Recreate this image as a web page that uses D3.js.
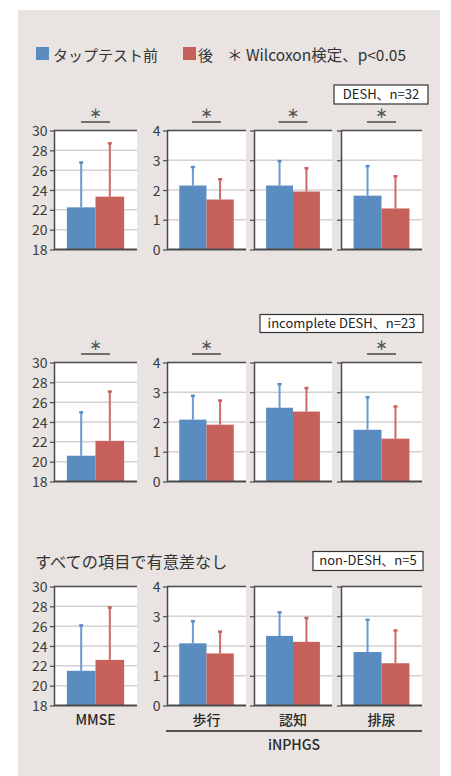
<!DOCTYPE html>
<html>
<head>
<meta charset="utf-8">
<script src="https://cdn.jsdelivr.net/npm/d3@7"></script>
<style>
  html, body { margin: 0; padding: 0; background: #ffffff; }
  svg { display: block; font-family: "Noto Sans CJK JP", "Noto Sans", sans-serif; }
</style>
</head>
<body>
<svg id="chart" width="451" height="776"></svg>
<script>
// Series and panel labels
const series = ["タップテスト前", "後"];
const panels = ["MMSE", "歩行", "認知", "排尿"];
const groups = ["DESH、n=32", "incomplete DESH、n=23", "non-DESH、n=5"];

// Means per group (rows) and panel (columns)
const meanBefore = [
  [22.25, 2.15, 2.15, 1.81],
  [20.6, 2.08, 2.48, 1.74],
  [21.5, 2.09, 2.34, 1.80]
];
const meanAfter = [
  [23.33, 1.68, 1.95, 1.38],
  [22.1, 1.91, 2.35, 1.44],
  [22.6, 1.75, 2.14, 1.42]
];
// Standard deviations (drawn upward only)
const sdBefore = [
  [4.55, 0.63, 0.83, 1.00],
  [4.4, 0.81, 0.80, 1.10],
  [4.6, 0.75, 0.80, 1.09]
];
const sdAfter = [
  [5.4, 0.69, 0.79, 1.09],
  [5.0, 0.82, 0.80, 1.09],
  [5.3, 0.74, 0.81, 1.11]
];
// Wilcoxon p<0.05 markers
const significant = [
  [1, 1, 1, 1],
  [1, 1, 0, 1],
  [0, 0, 0, 0]
];
// Axis domains and tick values
const mmseDomain = [18, 30];
const mmseTicks = [18, 20, 22, 24, 26, 28, 30];
const scoreDomain = [0, 4];
const scoreTicks = [0, 1, 2, 3, 4];

const colors = ["#5b8cbf", "#c6605a"];
const errColors = ["#6a9bd0", "#cc6a64"];

const svg = d3.select("#chart");

// Panel background
svg.append("rect").attr("x", 18).attr("y", 10).attr("width", 422).attr("height", 766)
  .attr("fill", "#e9e4e1");

// Legend
const legend = svg.append("g");
legend.append("rect").attr("x", 36).attr("y", 47).attr("width", 13).attr("height", 13).attr("fill", colors[0]);
legend.append("text").attr("x", 53).attr("y", 61).attr("font-size", 15).attr("fill", "#333").text(series[0]);
legend.append("rect").attr("x", 183).attr("y", 47).attr("width", 13).attr("height", 13).attr("fill", colors[1]);
legend.append("text").attr("x", 198).attr("y", 61).attr("font-size", 15).attr("fill", "#333").text(series[1]);
legend.append("text").attr("x", 227).attr("y", 61).attr("font-size", 15.5).attr("fill", "#333")
  .text("＊ Wilcoxon検定、p<0.05");

// Layout of panels
const colX = [[54, 137], [167, 246], [254, 332], [341, 422]];
const rowTop = [130.5, 362.5, 586.5];
const plotH = 119;
const groupBoxes = [
  { x: 334, y: 85, w: 94, h: 19 },
  { x: 260, y: 314.5, w: 163, h: 18 },
  { x: 313, y: 551.5, w: 110, h: 19 }
];
const sigY = [122, 354, null];

groups.forEach((g, r) => {
  const b = groupBoxes[r];
  svg.append("rect").attr("x", b.x).attr("y", b.y).attr("width", b.w).attr("height", b.h)
    .attr("fill", "#fff").attr("stroke", "#333").attr("stroke-width", 1.2);
  svg.append("text").attr("x", b.x + b.w / 2).attr("y", b.y + b.h / 2 + 4.4)
    .attr("text-anchor", "middle").attr("font-size", 13).attr("fill", "#222").text(g);

  panels.forEach((p, c) => {
    const [x0, x1] = colX[c];
    const y0 = rowTop[r], y1 = rowTop[r] + plotH;
    const isMMSE = c === 0;
    const y = d3.scaleLinear().domain(isMMSE ? mmseDomain : scoreDomain).range([y1, y0]);
    const ticks = isMMSE ? mmseTicks : scoreTicks;
    const x = d3.scaleBand().domain(series).range([x0, x1]).paddingInner(0).paddingOuter(0.45);

    const gp = svg.append("g");
    gp.append("rect").attr("x", x0).attr("y", y0).attr("width", x1 - x0).attr("height", plotH).attr("fill", "#fff");
    // gridlines
    gp.selectAll("line.grid").data(ticks.slice(1, -1)).join("line")
      .attr("x1", x0).attr("x2", x1).attr("y1", d => y(d)).attr("y2", d => y(d))
      .attr("stroke", "#d2d2d2").attr("stroke-width", 1.5);

    const vals = [meanBefore[r][c], meanAfter[r][c]];
    const sds = [sdBefore[r][c], sdAfter[r][c]];
    // error bars (upper whisker only)
    series.forEach((s, i) => {
      const cx = x(s) + x.bandwidth() / 2;
      gp.append("line").attr("x1", cx).attr("x2", cx)
        .attr("y1", y(vals[i])).attr("y2", y(vals[i] + sds[i]))
        .attr("stroke", errColors[i]).attr("stroke-width", 2);
      gp.append("rect").attr("x", cx - 2).attr("y", y(vals[i] + sds[i]) - 1)
        .attr("width", 4).attr("height", 2.5).attr("fill", colors[i]);
    });
    // bars
    gp.selectAll("rect.bar").data(series).join("rect").attr("class", "bar")
      .attr("x", s => x(s)).attr("width", x.bandwidth())
      .attr("y", (s, i) => y(vals[i])).attr("height", (s, i) => y1 - y(vals[i]))
      .attr("fill", (s, i) => colors[i]);

    // top border
    gp.append("line").attr("x1", x0).attr("x2", x1).attr("y1", y0).attr("y2", y0)
      .attr("stroke", "#4a4a4a").attr("stroke-width", 1.5);
    // left axis
    const axis = d3.axisLeft(y).tickValues(ticks).tickSize(4).tickSizeOuter(0)
      .tickFormat(c <= 1 ? d3.format("d") : () => "");
    const ga = gp.append("g").attr("transform", `translate(${x0},0)`).call(axis);
    ga.select(".domain").attr("stroke", "#4a4a4a").attr("stroke-width", 1.5);
    ga.selectAll(".tick line").attr("stroke", "#4a4a4a").attr("stroke-width", 1.2);
    ga.selectAll(".tick text").attr("font-size", 14).attr("fill", "#3a3a3a")
      .attr("font-family", "'Noto Sans CJK JP', sans-serif").attr("dx", "0.5").attr("dy", "0.36em");
    // bottom baseline
    gp.append("line").attr("x1", x0).attr("x2", x1).attr("y1", y1).attr("y2", y1)
      .attr("stroke", "#4a4a4a").attr("stroke-width", 1.8);

    // significance marker
    if (significant[r][c]) {
      const cx = x0 + x.step() * x.paddingOuter() + x.bandwidth();
      gp.append("line").attr("x1", cx - 14.5).attr("x2", cx + 14.5)
        .attr("y1", sigY[r]).attr("y2", sigY[r]).attr("stroke", "#222").attr("stroke-width", 1.2);
      gp.append("text").attr("x", cx).attr("y", sigY[r] - 4.5).attr("text-anchor", "middle")
        .attr("font-family", "'DejaVu Sans', sans-serif")
        .attr("font-size", 15).attr("fill", "#555").text("∗");
    }

    // category labels under the last row
    if (r === groups.length - 1) {
      svg.append("text").attr("x", (x0 + x1) / 2).attr("y", 725).attr("text-anchor", "middle")
        .attr("font-size", 14).attr("fill", "#2a2a2a").attr("font-weight", 500).text(p);
    }
  });
});

// No-difference note for the last group
svg.append("text").attr("x", 35).attr("y", 568).attr("font-size", 16.2).attr("fill", "#333")
  .text("すべての項目で有意差なし");

// iNPHGS bracket
svg.append("line").attr("x1", colX[1][0] - 1).attr("x2", colX[3][1]).attr("y1", 731).attr("y2", 731)
  .attr("stroke", "#222").attr("stroke-width", 1.3);
svg.append("text").attr("x", 294).attr("y", 750).attr("text-anchor", "middle")
  .attr("font-size", 14).attr("fill", "#2a2a2a").attr("font-weight", 500).text("iNPHGS");
</script>
</body>
</html>
